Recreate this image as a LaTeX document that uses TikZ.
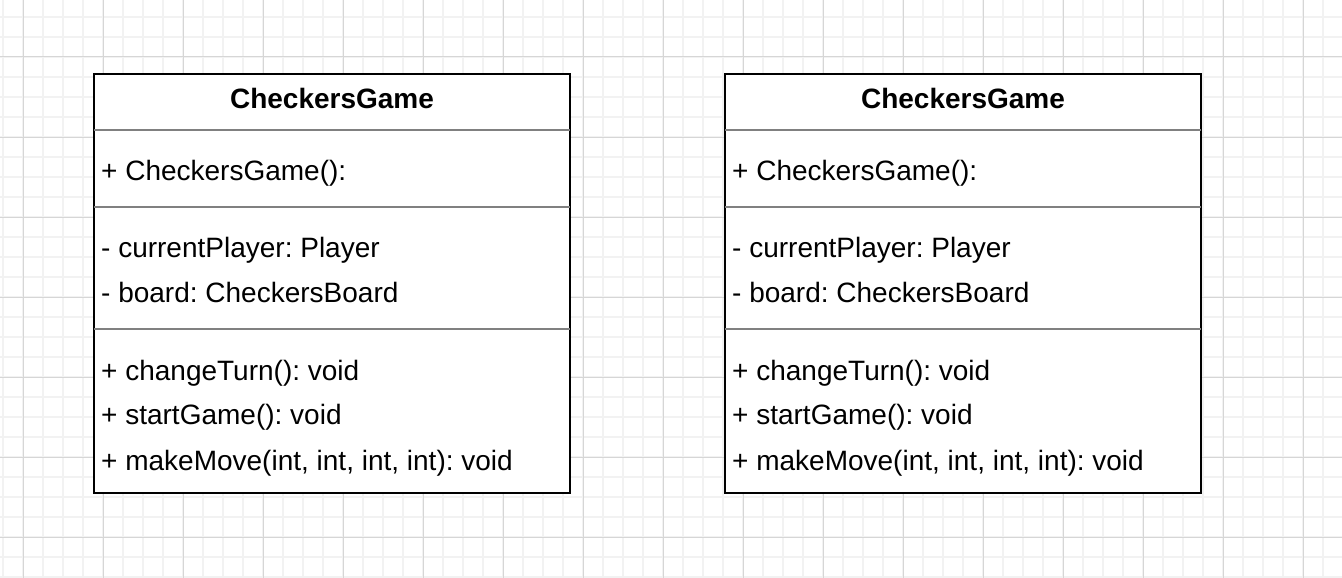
\documentclass[tikz,border=0pt]{standalone}
\usepackage{fontspec}
\setmainfont{Liberation Sans}
\frenchspacing
\usetikzlibrary{positioning}
\definecolor{gridminor}{HTML}{F2F2F2}
\definecolor{gridmajor}{HTML}{D6D6D6}
\definecolor{divider}{HTML}{808080}
\tikzset{
  classbox/.style={draw=black, line width=2pt, fill=white},
  sepline/.style={draw=divider, line width=1.5pt},
  member/.style={anchor=base west, inner sep=0pt, font=\fontsize{28}{33}\selectfont},
  classname/.style={anchor=base, inner sep=0pt, font=\fontsize{28}{33}\selectfont\bfseries},
}
\begin{document}
\begin{tikzpicture}[x=1pt, y=-1pt]
\useasboundingbox (0,0) rectangle (1342,578);
% ---- background grid ----
\fill[white] (0,0) rectangle (1342,578);
\foreach \i in {3,23,...,1343} \draw[gridminor, line width=1.4pt] (\i,0) -- (\i,578);
\foreach \j in {17,37,...,577} \draw[gridminor, line width=1.4pt] (0,\j) -- (1342,\j);
\foreach \i in {23,103,...,1343} \draw[gridmajor, line width=1pt] (\i,0) -- (\i,578);
\foreach \j in {57,137,...,577} \draw[gridmajor, line width=1pt] (0,\j) -- (1342,\j);
% ---- left class ----
\begin{scope}
  \draw[classbox] (94,74) rectangle (570,493);
  \draw[sepline] (94,130) -- (570,130);
  \draw[sepline] (94,207) -- (570,207);
  \draw[sepline] (94,329) -- (570,329);
  \node[classname] (titleL) at (332,109) {CheckersGame};
  \node[member] (ctorL) at (101,180) {+ CheckersGame():};
  \node[member] (playerL) at (101,257) {- currentPlayer: Player};
  \node[member] (boardL) at (101,302) {- board: CheckersBoard};
  \node[member] (turnL) at (101,380) {+ changeTurn(): void};
  \node[member] (startL) at (101,424) {+ startGame(): void};
  \node[member] (moveL) at (101,470) {+ makeMove(int, int, int, int): void};
\end{scope}
% ---- right class ----
\begin{scope}[xshift=631pt]
  \draw[classbox] (94,74) rectangle (570,493);
  \draw[sepline] (94,130) -- (570,130);
  \draw[sepline] (94,207) -- (570,207);
  \draw[sepline] (94,329) -- (570,329);
  \node[classname] (titleR) at (332,109) {CheckersGame};
  \node[member] (ctorR) at (101,180) {+ CheckersGame():};
  \node[member] (playerR) at (101,257) {- currentPlayer: Player};
  \node[member] (boardR) at (101,302) {- board: CheckersBoard};
  \node[member] (turnR) at (101,380) {+ changeTurn(): void};
  \node[member] (startR) at (101,424) {+ startGame(): void};
  \node[member] (moveR) at (101,470) {+ makeMove(int, int, int, int): void};
\end{scope}
\end{tikzpicture}
\end{document}
